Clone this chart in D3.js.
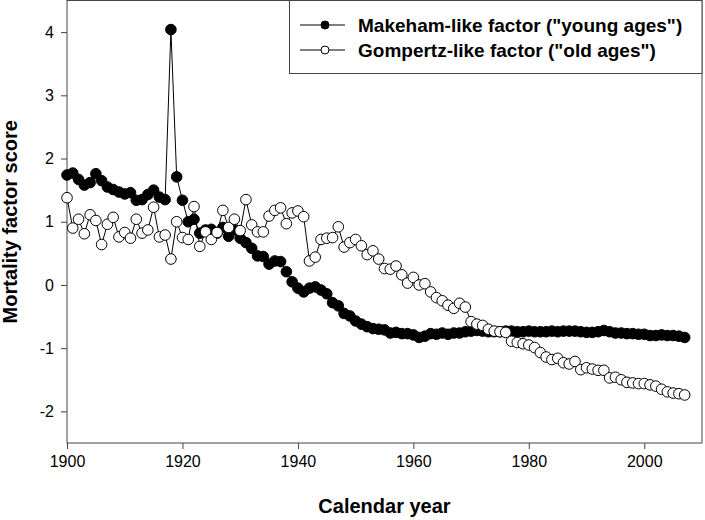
<!DOCTYPE html>
<html><head><meta charset="utf-8">
<script src="https://cdn.jsdelivr.net/npm/d3@7/dist/d3.min.js"></script>
<style>body{margin:0;background:#fff} svg{display:block}</style>
</head><body>
<svg id="chart" width="705" height="520"></svg>
<script>
const years = d3.range(1900, 2008);
const makeham = [
 1.74, 1.77, 1.67, 1.58, 1.62, 1.76, 1.65, 1.55, 1.51, 1.47,
 1.44, 1.46, 1.34, 1.35, 1.43, 1.50, 1.39, 1.35, 4.04, 1.71,
 1.34, 1.00, 1.04, 0.82, 0.87, 0.88, 0.82, 0.91, 0.77, 0.87,
 0.74, 0.67, 0.58, 0.46, 0.45, 0.33, 0.38, 0.37, 0.21, 0.05,
 -0.05, -0.11, -0.05, -0.03, -0.08, -0.14, -0.28, -0.33, -0.45, -0.49,
 -0.57, -0.62, -0.66, -0.69, -0.70, -0.71, -0.76, -0.75, -0.77, -0.77,
 -0.79, -0.83, -0.81, -0.77, -0.78, -0.76, -0.78, -0.76, -0.76, -0.74,
 -0.73, -0.72, -0.73, -0.74, -0.74, -0.74, -0.73, -0.73, -0.74, -0.74,
 -0.73, -0.74, -0.74, -0.74, -0.73, -0.74, -0.73, -0.73, -0.73, -0.74,
 -0.75, -0.75, -0.74, -0.72, -0.74, -0.76, -0.76, -0.77, -0.77, -0.78,
 -0.78, -0.80, -0.80, -0.79, -0.80, -0.80, -0.81, -0.83
];
const gompertz = [
 1.38, 0.90, 1.04, 0.81, 1.11, 1.02, 0.64, 0.96, 1.07, 0.76,
 0.83, 0.74, 1.04, 0.82, 0.87, 1.23, 0.76, 0.79, 0.41, 1.00,
 0.75, 0.72, 1.24, 0.61, 0.84, 0.72, 0.83, 1.18, 0.91, 1.04,
 0.86, 1.35, 0.95, 0.84, 0.84, 1.09, 1.18, 1.22, 0.97, 1.14,
 1.17, 1.08, 0.38, 0.44, 0.72, 0.74, 0.75, 0.92, 0.60, 0.67,
 0.72, 0.62, 0.48, 0.54, 0.41, 0.26, 0.25, 0.30, 0.16, 0.03,
 0.12, 0.00, 0.02, -0.11, -0.20, -0.25, -0.32, -0.37, -0.29, -0.35,
 -0.58, -0.62, -0.64, -0.70, -0.73, -0.74, -0.75, -0.89, -0.91, -0.93,
 -0.95, -0.99, -1.07, -1.14, -1.18, -1.16, -1.23, -1.25, -1.21, -1.34,
 -1.31, -1.33, -1.35, -1.35, -1.47, -1.46, -1.50, -1.54, -1.55, -1.56,
 -1.56, -1.58, -1.60, -1.65, -1.69, -1.71, -1.72, -1.74
];
const xTicks = [1900, 1920, 1940, 1960, 1980, 2000];
const yTicks = [-2, -1, 0, 1, 2, 3, 4];
const legendLabels = ['Makeham-like factor ("young ages")', 'Gompertz-like factor ("old ages")'];
const seriesFill = ['#000000', '#ffffff'];

const FONT = 'Arial, "Liberation Sans", sans-serif';
const svg = d3.select('#chart');
const L = 67, R = 702, T = 0.5, B = 443;
const x = d3.scaleLinear().domain([1900, 2010]).range([L, R]);
const y = d3.scaleLinear().domain([-2.5, 4.5]).range([B, T]);

// axes
const xAxis = svg.append('g').attr('transform', `translate(0,${B})`)
  .call(d3.axisBottom(x).tickValues(xTicks).tickSize(6).tickPadding(7).tickFormat(d3.format('d')));
const yAxis = svg.append('g').attr('transform', `translate(${L},0)`)
  .call(d3.axisLeft(y).tickValues(yTicks).tickSize(6).tickPadding(7).tickFormat(d => d));
[xAxis, yAxis].forEach(a => {
  a.select('.domain').remove();
  a.selectAll('line').attr('stroke', '#444');
  a.selectAll('text').attr('font-family', FONT).attr('font-size', 16).attr('fill', '#000');
});

// frame
svg.append('rect').attr('x', L).attr('y', T).attr('width', R - L).attr('height', B - T)
  .attr('fill', 'none').attr('stroke', '#444').attr('stroke-width', 1);

const line = d3.line().x((d, i) => x(years[i])).y(d => y(d));
[makeham, gompertz].forEach((vals, k) => {
  const g = svg.append('g');
  g.append('path').datum(vals).attr('d', line).attr('fill', 'none').attr('stroke', '#000').attr('stroke-width', 1);
  g.selectAll('circle').data(vals).join('circle')
    .attr('cx', (d, i) => x(years[i])).attr('cy', d => y(d)).attr('r', 5.3)
    .attr('fill', seriesFill[k]).attr('stroke', '#000').attr('stroke-width', 1);
});

// legend
const lg = svg.append('g');
lg.append('rect').attr('x', 289.5).attr('y', 0.5).attr('width', 412.5).attr('height', 73)
  .attr('fill', '#fff').attr('stroke', '#444');
legendLabels.forEach((lab, k) => {
  const cy = 25 + k * 25;
  lg.append('line').attr('x1', 300).attr('x2', 345).attr('y1', cy).attr('y2', cy).attr('stroke', '#000');
  lg.append('circle').attr('cx', 325).attr('cy', cy).attr('r', 4).attr('fill', seriesFill[k]).attr('stroke', '#000');
  lg.append('text').attr('x', 358).attr('y', cy + 7).text(lab)
    .attr('font-family', FONT).attr('font-weight', 'bold').attr('font-size', 19);
});

// titles
svg.append('text').attr('x', (L + R) / 2).attr('y', 513).attr('text-anchor', 'middle')
  .attr('font-family', FONT).attr('font-weight', 'bold').attr('font-size', 20).text('Calendar year');
svg.append('text').attr('transform', `translate(17,${(T + B) / 2}) rotate(-90)`).attr('text-anchor', 'middle')
  .attr('font-family', FONT).attr('font-weight', 'bold').attr('font-size', 20).text('Mortality factor score');
</script>
</body></html>
